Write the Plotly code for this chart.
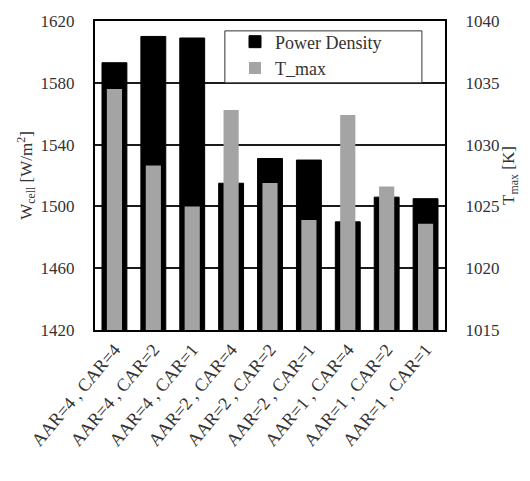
import plotly.graph_objects as go

# Cell configurations (anode / cathode aspect ratios)
configs = ["AAR=4 , CAR=4", "AAR=4 , CAR=2", "AAR=4 , CAR=1",
           "AAR=2 , CAR=4", "AAR=2 , CAR=2", "AAR=2 , CAR=1",
           "AAR=1 , CAR=4", "AAR=1 , CAR=2", "AAR=1 , CAR=1"]

# Power density W_cell [W/m2]
power_density = [1593, 1610, 1609, 1515, 1531, 1530, 1490, 1506, 1505]

# Maximum temperature T_max [K]
t_max = [1034.5, 1028.3, 1025.0, 1032.8, 1026.9, 1023.9, 1032.4, 1026.6, 1023.6]

left_ticks = [1420, 1460, 1500, 1540, 1580, 1620]
right_ticks = [1015, 1020, 1025, 1030, 1035, 1040]

FONT = "Liberation Serif"
x_idx = list(range(len(configs)))

fig = go.Figure()
fig.add_trace(go.Bar(
    x=x_idx, y=power_density, name="Power Density",
    marker=dict(color="black", line=dict(color="black", width=1)),
    width=0.64, yaxis="y",
))
fig.add_trace(go.Bar(
    x=x_idx, y=t_max, name="T_max",
    marker=dict(color="#a4a4a4", line=dict(width=0)),
    width=0.39, yaxis="y2",
))

# Legend frame
fig.add_shape(
    type="rect", xref="paper", yref="paper",
    x0=0.371, x1=0.934, y0=0.80, y1=0.968,
    fillcolor="white", line=dict(color="#333", width=1), layer="above",
)

fig.update_layout(
    width=530, height=481,
    margin=dict(l=95, r=85, t=17, b=151),
    paper_bgcolor="white", plot_bgcolor="white",
    barmode="overlay",
    font=dict(family=FONT, size=17, color="#333"),
    showlegend=True,
    legend=dict(
        x=0.40, y=0.992, xanchor="left", yanchor="top",
        bgcolor="rgba(0,0,0,0)", borderwidth=0,
        font=dict(family=FONT, size=18, color="#333"),
        itemwidth=30, tracegroupgap=0,
    ),
    xaxis=dict(
        range=[-0.5, 8.5], tickvals=x_idx, ticktext=configs,
        tickangle=-50, tickfont=dict(size=18),
        showline=True, linecolor="black", linewidth=2, mirror=True,
        ticks="", showgrid=False, zeroline=False,
    ),
    yaxis=dict(
        range=[1420, 1620], tickvals=left_ticks,
        ticklabelstandoff=15,
        title=dict(text="W<sub>cell</sub> [W/m<sup>2</sup>]", font=dict(size=17), standoff=4),
        showline=True, linecolor="black", linewidth=2,
        showgrid=True, gridcolor="#1a1a1a", gridwidth=1.5,
        ticks="", zeroline=False,
    ),
    yaxis2=dict(
        range=[1015, 1040], tickvals=right_ticks,
        overlaying="y", side="right",
        ticklabelstandoff=15,
        title=dict(text="T<sub>max</sub> [K]", font=dict(size=17), standoff=4),
        showline=True, linecolor="black", linewidth=2,
        showgrid=False, ticks="", zeroline=False,
    ),
)

fig.write_html("out.html")
